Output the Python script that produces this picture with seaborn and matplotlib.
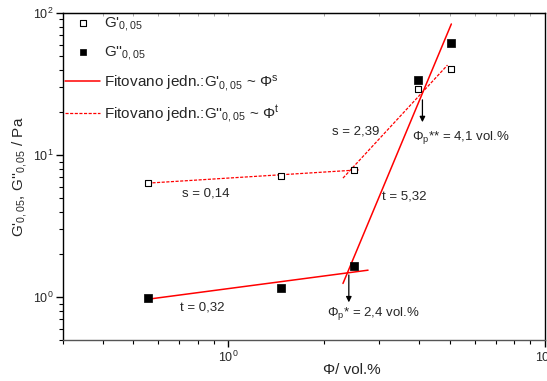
import numpy as np
import pandas as pd
import seaborn as sns
import matplotlib
matplotlib.use('Agg')
import matplotlib.pyplot as plt
from matplotlib.ticker import LogLocator, NullFormatter

# Data (volume fraction in vol.%, moduli in Pa)
phi = [0.556, 1.47, 2.49, 3.96, 5.03]
g1 = [6.35, 7.1, 7.84, 29.2, 40.3]      # G'_0,05 (open squares)
g2 = [0.98, 1.16, 1.65, 33.8, 61.5]     # G''_0,05 (filled squares)

# fitted power-law segments, end points
fit_s_low_x = [0.556, 2.60]
fit_s_low_y = [6.35, 7.88]
fit_s_high_x = [2.30, 4.92]
fit_s_high_y = [6.89, 43.0]
fit_t_low_x = [0.556, 2.76]
fit_t_low_y = [0.968, 1.55]
fit_t_high_x = [2.30, 5.06]
fit_t_high_y = [1.25, 83.7]

# percolation thresholds
phi_p1 = 2.4
phi_p2 = 4.1

sns.set_style('ticks')
plt.rcParams['font.family'] = ['Liberation Sans', 'DejaVu Sans']
plt.rcParams['mathtext.default'] = 'regular'
plt.rcParams['mathtext.fontset'] = 'custom'
plt.rcParams['mathtext.rm'] = 'Liberation Sans'
plt.rcParams['mathtext.it'] = 'Liberation Sans'

df = pd.DataFrame({'phi': phi, 'g1': g1, 'g2': g2})

fig = plt.figure(figsize=(5.47, 3.81), dpi=100)
ax = fig.add_axes([0.1152, 0.1076, 0.8811, 0.8583])

sns.scatterplot(data=df, x='phi', y='g1', ax=ax, marker='s', s=22,
                facecolor='white', edgecolor='black', linewidth=0.8,
                label="G'$_{0,05}$", zorder=3)
sns.scatterplot(data=df, x='phi', y='g2', ax=ax, marker='s', s=30,
                color='black', edgecolor='black', linewidth=0.5,
                label="G''$_{0,05}$", zorder=3)

red = '#ff0000'
dash = (0, (2.5, 1.2))
ax.plot(fit_t_low_x, fit_t_low_y, color=red, lw=1.1,
        label="Fitovano jedn.:G'$_{0,05}$ ~ Φ$^{s}$")
ax.plot(fit_t_high_x, fit_t_high_y, color=red, lw=1.1)
ax.plot(fit_s_low_x, fit_s_low_y, color=red, lw=0.9, linestyle=dash,
        label="Fitovano jedn.:G''$_{0,05}$ ~ Φ$^{t}$")
ax.plot(fit_s_high_x, fit_s_high_y, color=red, lw=0.9, linestyle=dash)

ax.set_xscale('log')
ax.set_yscale('log')
ax.set_xlim(0.3, 10)
ax.set_ylim(0.5, 100)

ax.xaxis.set_major_locator(LogLocator(base=10))
ax.xaxis.set_minor_locator(LogLocator(base=10, subs=np.arange(2, 10)))
ax.xaxis.set_minor_formatter(NullFormatter())
ax.yaxis.set_minor_locator(LogLocator(base=10, subs=np.arange(2, 10)))
ax.yaxis.set_minor_formatter(NullFormatter())
ax.tick_params(which='major', direction='out', length=5, width=1, labelsize=9,
               color='black', pad=2)
ax.tick_params(which='minor', direction='out', length=3, width=0.8, color='black')
for side in ['top', 'right', 'left', 'bottom']:
    ax.spines[side].set_visible(True)
    ax.spines[side].set_color('black')
    ax.spines[side].set_linewidth(1.0)
ax.spines['bottom'].set_color('#555555')

# faint inward ticks on the mirrored top axis
top = ax.secondary_xaxis('top')
top.xaxis.set_major_locator(LogLocator(base=10))
top.xaxis.set_minor_locator(LogLocator(base=10, subs=np.arange(2, 10)))
top.tick_params(which='both', direction='in', length=2.5, width=0.6,
                color='#999999', labeltop=False)

ax.set_xlabel('Φ/ vol.%', fontsize=11, labelpad=1)
ax.set_ylabel("G'$_{0,05}$, G''$_{0,05}$ / Pa", fontsize=11, labelpad=3)
ax.xaxis.set_label_coords(0.6, -0.07)

# text labels of the fitted slopes
fs = 9.5
ax.text(0.847, 5.40, 's = 0,14', fontsize=fs, ha='center', va='center')
ax.text(0.828, 0.85, 't = 0,32', fontsize=fs, ha='center', va='center')
ax.text(2.53, 14.7, 's = 2,39', fontsize=fs, ha='center', va='center')
ax.text(3.60, 5.14, 't = 5,32', fontsize=fs, ha='center', va='center')

arrow = dict(arrowstyle='-|>', color='black', lw=0.9, mutation_scale=8)
ax.annotate('', xy=(phi_p1, 0.88), xytext=(phi_p1, 1.50), arrowprops=arrow)
ax.annotate('', xy=(phi_p2, 16.3), xytext=(phi_p2, 25.6), arrowprops=arrow)
ax.text(2.05, 0.77, 'Φ$_p$* = 2,4 vol.%', fontsize=fs, ha='left', va='center')
ax.text(3.81, 13.2, 'Φ$_p$** = 4,1 vol.%', fontsize=fs, ha='left', va='center')

ax.legend(loc='upper left', frameon=False, fontsize=11, handlelength=2.3,
          handletextpad=0.2, labelspacing=0.7, borderaxespad=0.05,
          borderpad=0.1, markerscale=0.9)

fig.savefig('out.png', dpi=100)
